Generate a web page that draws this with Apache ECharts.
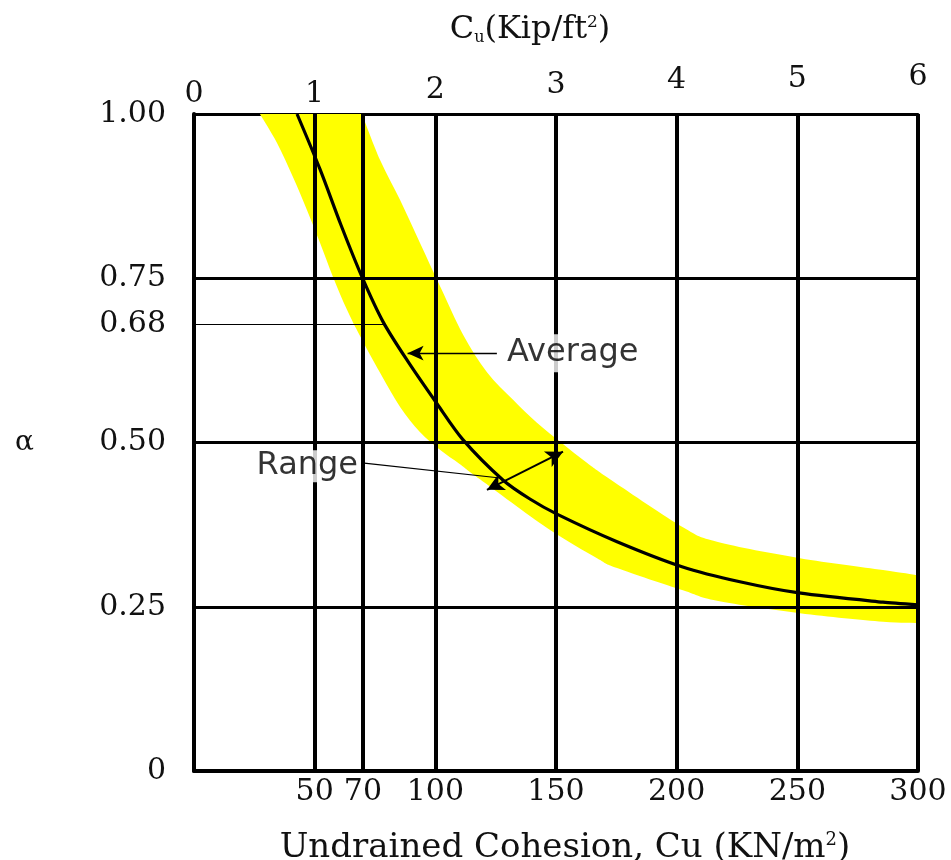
<!DOCTYPE html>
<html>
<head>
<meta charset="utf-8">
<script src="https://cdn.jsdelivr.net/npm/echarts@6/dist/echarts.min.js"></script>
<style>html,body{margin:0;padding:0;background:#fff}#c{width:951px;height:860px}</style>
</head>
<body>
<div id="c"></div>
<script>
// ---- data (Cu in kN/m2, alpha dimensionless) ----
const xGridValues = [50, 70, 100, 150, 200, 250, 300];
const yGridValues = [0.25, 0.5, 0.75];
const xTickLabels = [50, 70, 100, 150, 200, 250, 300];
const yTickLabels = [0, 0.25, 0.5, 0.68, 0.75, 1.0];
const topTickLabels = [0, 1, 2, 3, 4, 5, 6];

const avgCu    = [42.7, 52.2, 60.9, 69.6, 78.3, 88.7, 100.7, 111.5, 128.0, 139.2, 150.4, 175.3, 202.2, 226.2, 250.7, 285.5, 300];
const avgAlpha = [1.0, 0.916, 0.831, 0.752, 0.684, 0.623, 0.559, 0.504, 0.443, 0.414, 0.391, 0.349, 0.311, 0.288, 0.271, 0.257, 0.253];

const upperCu    = [69.6, 77.1, 85.4, 93.6, 102.3, 111.5, 121.4, 132.2, 142.1, 152.5, 162.8, 173.6, 202.6, 216.7, 251.1, 285.5, 300];
const upperAlpha = [1.0, 0.930, 0.869, 0.804, 0.735, 0.664, 0.607, 0.565, 0.530, 0.499, 0.469, 0.441, 0.371, 0.349, 0.324, 0.306, 0.298];

const lowerCu    = [27.3, 34.4, 41.0, 46.8, 52.2, 57.6, 63.4, 68.8, 77.1, 85.4, 93.6, 101.9, 110.2, 118.5, 146.3, 167.0, 175.3, 202.6, 216.7, 251.1, 285.5, 300];
const lowerAlpha = [1.0, 0.956, 0.904, 0.854, 0.804, 0.752, 0.702, 0.662, 0.606, 0.554, 0.516, 0.489, 0.467, 0.444, 0.370, 0.324, 0.309, 0.275, 0.259, 0.240, 0.227, 0.225];

const refLine068     = [[0, 0.68], [78.5, 0.68]];
const averageArrow   = [[125.5, 0.636], [88.5, 0.636]];
const averageLabelAt = [128.9, 0.636];
const rangeArrow     = [[121.4, 0.428], [152.9, 0.486]];
const rangeLeader    = [[69.6, 0.469], [126.8, 0.446]];
const rangeLabelAt   = [68.8, 0.464];

const avgData  = avgCu.map((c, i) => [c, avgAlpha[i]]);
const upperPts = upperCu.map((c, i) => [c, upperAlpha[i]]);
const lowerPts = lowerCu.map((c, i) => [c, lowerAlpha[i]]);

const serif = 'DejaVu Serif';
const sans = 'DejaVu Sans';
const topPad = [0, 0, 4, 9, 14, 15, 17];

// smooth path (Catmull-Rom -> cubic Bezier) through pixel points, rendering only
function smoothSeg(p) {
  let d = '';
  for (let i = 0; i < p.length - 1; i++) {
    const p0 = p[Math.max(i - 1, 0)], p1 = p[i], p2 = p[i + 1], p3 = p[Math.min(i + 2, p.length - 1)];
    const c1 = [p1[0] + (p2[0] - p0[0]) / 6, p1[1] + (p2[1] - p0[1]) / 6];
    const c2 = [p2[0] - (p3[0] - p1[0]) / 6, p2[1] - (p3[1] - p1[1]) / 6];
    d += ' C' + c1[0] + ' ' + c1[1] + ' ' + c2[0] + ' ' + c2[1] + ' ' + p2[0] + ' ' + p2[1];
  }
  return d;
}

const chart = echarts.init(document.getElementById('c'), null, {renderer: 'canvas'});

const solid = (w) => ({width: w, color: '#000', type: 'solid'});
const markLineData = [];
xGridValues.forEach(v => markLineData.push({xAxis: v, lineStyle: solid(4)}));
yGridValues.forEach(v => markLineData.push({yAxis: v, lineStyle: solid(3)}));
markLineData.push([{coord: refLine068[0], lineStyle: solid(1.2)}, {coord: refLine068[1]}]);
markLineData.push([{coord: rangeLeader[0], lineStyle: solid(1.2)}, {coord: rangeLeader[1]}]);
markLineData.push([{coord: averageArrow[0], symbol: 'none', lineStyle: solid(1.3)},
                   {coord: averageArrow[1], symbol: 'arrow', symbolSize: [11, 16]}]);
markLineData.push([{coord: rangeArrow[0], symbol: 'arrow', symbolSize: [13, 17], lineStyle: solid(2)},
                   {coord: rangeArrow[1], symbol: 'arrow', symbolSize: [13, 17]}]);

const option = {
  animation: false,
  backgroundColor: '#fff',
  title: [
    {
      text: '{m|C}{s|u}{m|(Kip/ft}{p|2}{m|)}',
      left: 525, top: 9, textAlign: 'center',
      textStyle: {
        fontWeight: 'normal',
        rich: {
          m: {fontFamily: serif, fontSize: 32, fontWeight: 'normal', color: '#111'},
          s: {fontFamily: serif, fontSize: 16, fontWeight: 'normal', color: '#111', verticalAlign: 'bottom'},
          p: {fontFamily: serif, fontSize: 17, fontWeight: 'normal', color: '#111', verticalAlign: 'top'}
        }
      }
    },
    {
      text: '{m|Undrained Cohesion, Cu (KN/m}{p|2}{m|)}',
      left: 560, top: 826, textAlign: 'center',
      textStyle: {
        fontWeight: 'normal',
        rich: {
          m: {fontFamily: serif, fontSize: 34, fontWeight: 'normal', color: '#111'},
          p: {fontFamily: serif, fontSize: 18, fontWeight: 'normal', color: '#111', verticalAlign: 'top'}
        }
      }
    }
  ],
  grid: {left: 194, right: 33, top: 114, bottom: 89, containLabel: false},
  xAxis: [
    {
      type: 'value', min: 0, max: 300, interval: 10, position: 'bottom',
      axisLine: {show: true, onZero: false, lineStyle: {color: '#000', width: 4}},
      axisTick: {show: false},
      splitLine: {show: false},
      axisLabel: {
        margin: 6, fontFamily: serif, fontSize: 30, color: '#111',
        formatter: v => xTickLabels.some(t => Math.abs(t - v) < 1e-6) ? String(v) : ''
      }
    },
    {
      type: 'value', min: 0, max: 6, interval: 1, position: 'top',
      axisLine: {show: true, onZero: false, lineStyle: {color: '#000', width: 3}},
      axisTick: {show: false},
      splitLine: {show: false},
      axisLabel: {
        margin: 5, fontFamily: serif, fontSize: 30, color: '#111',
        formatter: (v, i) => topTickLabels.indexOf(v) >= 0 ? '{t' + i + '|' + v + '}' : '',
        rich: Object.fromEntries(topPad.map((p, i) => ['t' + i, {fontFamily: serif, fontSize: 30, color: '#111', padding: [0, 0, p, 0]}]))
      }
    }
  ],
  yAxis: {
    type: 'value', min: 0, max: 1, interval: 0.01,
    name: 'α', nameLocation: 'middle', nameRotate: 0, nameGap: 160,
    nameTextStyle: {fontFamily: serif, fontSize: 28, color: '#111'},
    axisLine: {show: true, onZero: false, lineStyle: {color: '#000', width: 4}},
    axisTick: {show: false},
    splitLine: {show: false},
    axisLabel: {
      margin: 28, fontFamily: serif, fontSize: 30, color: '#111',
      formatter: v => yTickLabels.some(t => Math.abs(t - v) < 1e-6) ? (v === 0 ? '0' : v.toFixed(2)) : ''
    }
  },
  series: [
    {
      name: 'Range band', type: 'custom', z: 1, clip: true, silent: true,
      data: [[0, 0]],
      renderItem: (params, api) => {
        const up = upperPts.map(p => api.coord(p));
        const lo = lowerPts.slice().reverse().map(p => api.coord(p));
        const d = 'M' + up[0][0] + ' ' + up[0][1] + smoothSeg(up) +
                  ' L' + lo[0][0] + ' ' + lo[0][1] + smoothSeg(lo) + ' Z';
        return {type: 'path', shape: {pathData: d}, style: {fill: '#FFFF00', stroke: null}};
      }
    },
    {
      name: 'grid', type: 'scatter', z: 3, silent: true, data: [],
      markLine: {
        silent: true, symbol: 'none', animation: false,
        label: {show: false}, emphasis: {disabled: true},
        data: markLineData
      }
    },
    {
      name: 'Average', type: 'line', z: 5, silent: true, clip: true,
      data: avgData, smooth: 0.3, showSymbol: false, symbol: 'none',
      lineStyle: {color: '#000', width: 3.2}
    },
    {
      name: 'labels', type: 'scatter', z: 10, silent: true, symbolSize: 0,
      data: [
        {value: averageLabelAt, label: {show: true, formatter: 'Average', position: 'inside', align: 'left', verticalAlign: 'middle',
          fontFamily: sans, fontSize: 32, color: '#000', backgroundColor: '#fff', padding: [3, 4, 3, 2]}},
        {value: rangeLabelAt, label: {show: true, formatter: 'Range', position: 'inside', align: 'right', verticalAlign: 'middle',
          fontFamily: sans, fontSize: 32, color: '#000', backgroundColor: '#fff', padding: [0, 2, 0, 2]}}
      ]
    }
  ]
};
chart.setOption(option);
</script>
</body>
</html>
